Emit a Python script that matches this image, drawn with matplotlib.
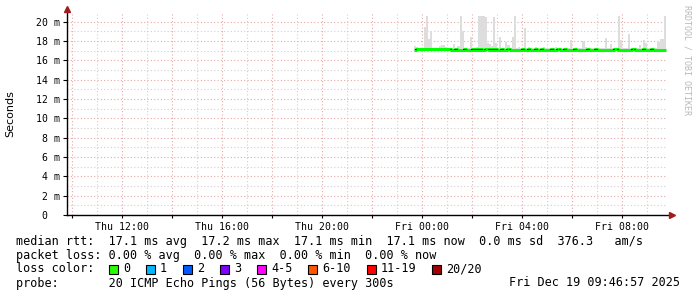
import numpy as np
import pandas as pd
import matplotlib
matplotlib.use("Agg")
import matplotlib.pyplot as plt
import matplotlib.dates as mdates
from matplotlib.ticker import MultipleLocator, FuncFormatter
from matplotlib.patches import Rectangle

W, H = 697, 297

# 5 minute rrd steps, Thu 23:40 -> Fri 09:40
start = "2025-12-18 23:40"

# median rtt in ms (one value per step)
median_ms = [
    17.1, 17.2, 17.2, 17.2, 17.2, 17.2, 17.2, 17.2, 17.2, 17.2,
    17.2, 17.2, 17.2, 17.2, 17.2, 17.2, 17.2, 17.2, 17.1, 17.1,
    17.2, 17.1, 17.1, 17.1, 17.2, 17.1, 17.1, 17.1, 17.2, 17.1,
    17.2, 17.1, 17.2, 17.1, 17.2, 17.2, 17.1, 17.2, 17.1, 17.2,
    17.1, 17.1, 17.2, 17.1, 17.1, 17.2, 17.1, 17.1, 17.1, 17.1,
    17.1, 17.1, 17.2, 17.1, 17.1, 17.2, 17.1, 17.1, 17.2, 17.1,
    17.1, 17.2, 17.1, 17.1, 17.1, 17.1, 17.2, 17.1, 17.1, 17.2,
    17.1, 17.1, 17.2, 17.1, 17.1, 17.1, 17.1, 17.2, 17.1, 17.1,
    17.1, 17.1, 17.1, 17.2, 17.1, 17.1, 17.1, 17.2, 17.1, 17.1,
    17.1, 17.1, 17.1, 17.1, 17.1, 17.1, 17.2, 17.2, 17.1, 17.1,
    17.1, 17.1, 17.1, 17.1, 17.1, 17.2, 17.1, 17.1, 17.1, 17.1,
    17.2, 17.1, 17.1, 17.1, 17.2, 17.1, 17.1, 17.1, 17.1, 17.1,
    17.1,
]

# top of the smoke (slowest ping) in ms
smoke_max = [
    17.5, 17.4, 17.3, 17.3, 17.3, 19.5, 20.6, 18.2, 19.0, 17.3,
    17.3, 17.3, 17.5, 17.6, 17.6, 17.4, 17.3, 17.3, 17.3, 17.7,
    17.3, 17.5, 20.6, 19.0, 17.3, 17.2, 17.3, 18.4, 17.3, 17.3,
    17.4, 20.6, 20.6, 20.6, 20.5, 17.8, 17.7, 17.5, 20.5, 17.8,
    17.3, 18.4, 17.3, 17.3, 17.9, 17.6, 17.3, 18.4, 20.6, 17.3,
    17.4, 17.3, 17.3, 19.3, 17.3, 17.4, 17.3, 17.3, 17.4, 17.3,
    17.3, 17.3, 17.4, 17.3, 17.3, 17.3, 17.3, 17.3, 17.4, 17.3,
    17.3, 17.3, 17.3, 17.3, 17.3, 18.1, 17.3, 17.3, 17.3, 17.3,
    17.3, 18.0, 17.4, 17.3, 17.3, 17.3, 17.3, 17.3, 17.3, 17.3,
    17.3, 17.3, 18.3, 17.3, 17.7, 17.3, 17.3, 17.3, 20.6, 18.1,
    17.3, 17.3, 17.3, 18.7, 17.3, 17.3, 17.3, 17.3, 17.6, 17.3,
    18.1, 17.8, 17.3, 17.3, 17.3, 17.3, 17.3, 17.9, 18.2, 18.2,
    20.6,
]
smoke_floor = 16.95

loss_labels = ["0", "1", "2", "3", "4-5", "6-10", "11-19", "20/20"]
loss_colors = ["#26ff00", "#00b8ff", "#0059ff", "#7e00ff", "#ff00ff",
               "#ff5500", "#ff0000", "#a10000"]

legend_rows = [
    "median rtt:  17.1 ms avg  17.2 ms max  17.1 ms min  17.1 ms now  0.0 ms sd  376.3   am/s",
    "packet loss: 0.00 % avg  0.00 % max  0.00 % min  0.00 % now",
    "loss color:",
    "probe:       20 ICMP Echo Pings (56 Bytes) every 300s",
]
stamp = "Fri Dec 19 09:46:57 2025"

MONO = "DejaVu Sans Mono"


def fx(x):
    return x / W


def fy(y):
    return 1 - y / H


fig = plt.figure(figsize=(W / 100, H / 100), dpi=100)
fig.patch.set_facecolor("white")
ax = fig.add_axes([fx(67), fy(215), 600 / W, 202 / H])

t = pd.date_range(start, periods=len(median_ms) + 1, freq="5min")
med = np.array(median_ms + [median_ms[-1]])
smax = np.array(smoke_max + [smoke_max[-1]])

ax.fill_between(t, smoke_floor, smax, step="post", color="#dddddd", lw=0, zorder=2)
ax.plot(t, med, drawstyle="steps-post", color="#00ff00", lw=2.2, zorder=3,
        solid_capstyle="butt")

# small dark marks where the median steps up or down
for i in range(1, len(median_ms)):
    if median_ms[i] != median_ms[i - 1]:
        ax.plot([t[i], t[i]], [median_ms[i - 1], median_ms[i]], color="#202020",
                lw=1.3, zorder=4, solid_capstyle="butt")

ax.set_xlim(pd.Timestamp("2025-12-18 09:48"), pd.Timestamp("2025-12-19 09:48"))
ax.set_ylim(0, 20.9)

# grid like rrdtool: red major, grey minor, dotted
ax.xaxis.set_major_locator(mdates.HourLocator(byhour=range(0, 24, 2)))
ax.xaxis.set_minor_locator(mdates.HourLocator())


def xfmt(v, pos):
    d = mdates.num2date(v)
    if d.hour % 4:
        return ""
    return d.strftime("%a %H:%M")


ax.xaxis.set_major_formatter(FuncFormatter(xfmt))
ax.yaxis.set_major_locator(MultipleLocator(2))
ax.yaxis.set_minor_locator(MultipleLocator(1))
ax.yaxis.set_major_formatter(FuncFormatter(lambda v, p: "0  " if v == 0 else "%d m" % v))

ax.grid(which="major", color="#e8a8a8", ls=(0, (1, 2)), lw=0.8, zorder=1)
ax.grid(which="minor", color="#d0d0d0", ls=(0, (1, 2)), lw=0.8, zorder=1)
ax.set_axisbelow(True)

for sp in ["top", "right", "bottom", "left"]:
    ax.spines[sp].set_visible(False)

ax.tick_params(axis="y", which="major", length=3, width=0.8, pad=2,
               labelsize=7.1, labelfontfamily=MONO)
ax.tick_params(axis="y", which="minor", length=0)
ax.tick_params(axis="x", which="major", length=2, width=0.8, pad=3,
               labelsize=7.1, labelfontfamily=MONO)
ax.tick_params(axis="x", which="minor", length=0)

# axis lines with rrdtool arrows
ax.plot([0, 1.005], [0, 0], transform=ax.transAxes, color="black", lw=1,
        clip_on=False, zorder=4)
ax.plot([0, 0], [0, 1.015], transform=ax.transAxes, color="black", lw=1,
        clip_on=False, zorder=4)
ax.plot([1.008], [0], transform=ax.transAxes, marker=">", ms=4, color="#a01c1c",
        clip_on=False, zorder=5)
ax.plot([0], [1.022], transform=ax.transAxes, marker="^", ms=4, color="#a01c1c",
        clip_on=False, zorder=5)

fig.text(fx(10), fy(114), "Seconds", rotation=90, ha="center", va="center",
         fontsize=8, family="DejaVu Sans")
fig.text(fx(687), fy(5), "RRDTOOL / TOBI OETIKER", rotation=270, ha="center",
         va="top", fontsize=6, family=MONO, color="#b8b8b8")

row_y = [241, 255, 269, 283]
for txt, y in zip(legend_rows, row_y):
    fig.text(fx(16), fy(y), txt, ha="left", va="center", fontsize=8.45, family=MONO)
fig.text(fx(680), fy(283), stamp, ha="right", va="center", fontsize=8.45, family=MONO)

# loss color boxes
cw = 7.07
bx = 109
for lab, col in zip(loss_labels, loss_colors):
    fig.patches.append(Rectangle((fx(bx), fy(274)), 9 / W, 9 / H, transform=fig.transFigure,
                                 facecolor=col, edgecolor="black", lw=0.8))
    fig.text(fx(bx + 14), fy(269), lab, ha="left", va="center", fontsize=8.45, family=MONO)
    bx += 14 + len(lab) * cw + 16

fig.savefig("out.png", dpi=100)
